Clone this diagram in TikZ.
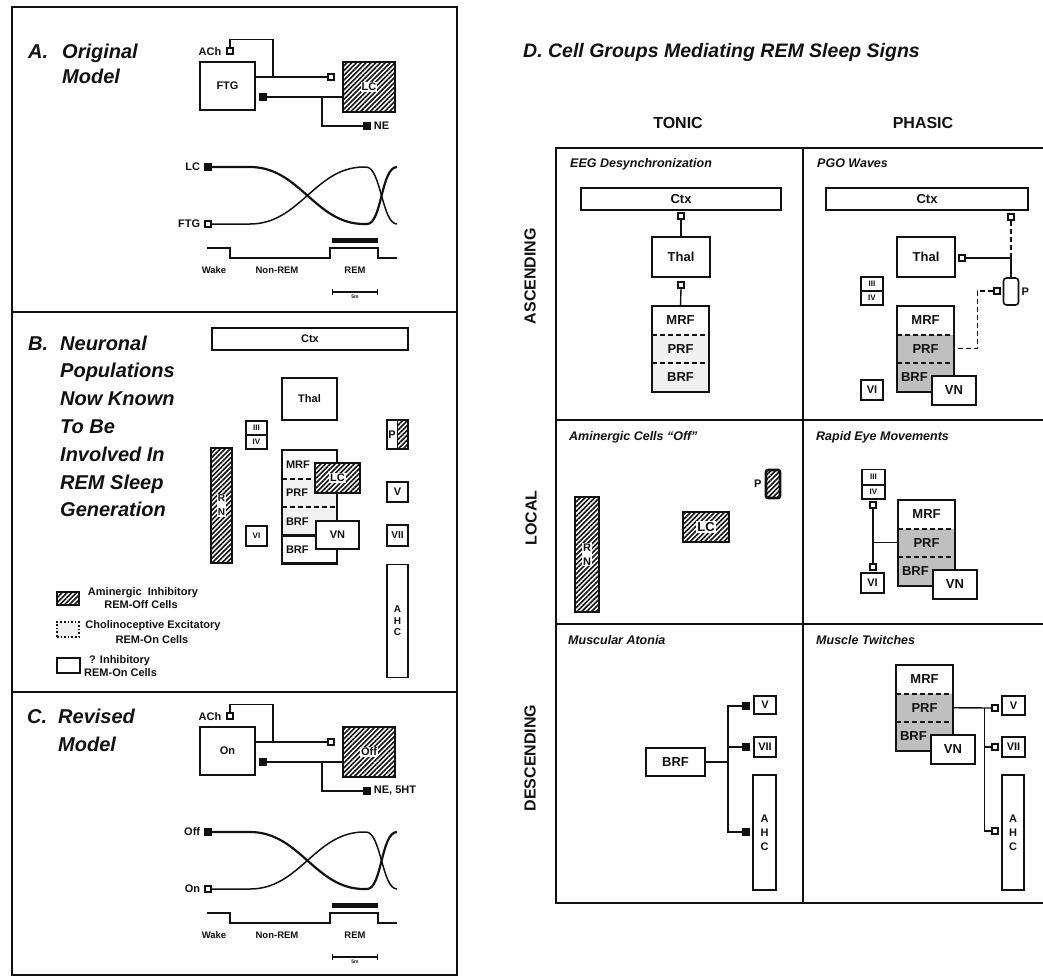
\documentclass[tikz,border=0pt]{standalone}
\usepackage{fontspec}
\setmainfont{Liberation Sans}
\usepackage{tikz}
\usetikzlibrary{arrows.meta,positioning,patterns.meta}
\definecolor{ink}{HTML}{111111}
\tikzset{
  ttl/.style={font=\fontsize{20}{24}\selectfont\bfseries\itshape,inner sep=0pt,anchor=base west},
  sub/.style={font=\fontsize{12.5}{14}\selectfont\bfseries\itshape,inner sep=0pt,anchor=base west},
  hdr/.style={font=\fontsize{16}{18}\selectfont\bfseries,inner sep=0pt},
  lbl/.style={font=\fontsize{11}{14}\selectfont\bfseries,inner sep=0pt},
  dlbl/.style={font=\fontsize{13}{14}\selectfont\bfseries,inner sep=0pt},
  sml/.style={font=\fontsize{9.5}{10}\selectfont\bfseries,inner sep=0pt},
  tny/.style={font=\fontsize{8}{8}\selectfont\bfseries},
  box/.style 2 args={draw=ink,line width=1.6pt,fill=white,minimum width=#1,minimum height=#2,
    inner sep=0pt,font=\fontsize{11}{14}\selectfont\bfseries},
  dbox/.style 2 args={box={#1}{#2},font=\fontsize{13}{14}\selectfont\bfseries},
  inh/.style 2 args={box={#1}{#2},line width=2.6pt},
  hatch/.style={pattern={Lines[angle=45,distance=3.4pt,line width=1.6pt]},pattern color=ink},
  offc/.style 2 args={inh={#1}{#2},preaction={fill=white},hatch},
  knock/.style={fill=white,inner sep=1pt},
  osq/.style={draw=ink,line width=1.3pt,fill=white,minimum size=6pt,inner sep=0pt},
  fsq/.style={draw=ink,fill=ink,minimum size=7pt,inner sep=0pt},
  conn/.style={draw=ink,line width=1.4pt},
  frame/.style={draw=ink,line width=1.7pt},
  dsh/.style={dash pattern=on 5pt off 3pt},
  part/.style={minimum width=#1,minimum height=28.5pt,inner sep=0pt},
  bpart/.style={font=\fontsize{11}{14}\selectfont\bfseries,text width=47pt,align=left},
  dpart/.style={font=\fontsize{13}{14}\selectfont\bfseries}
}
\begin{document}
\begin{tikzpicture}[x=1pt,y=-1pt,ink]
\useasboundingbox (0,0) rectangle (1043,977);

% left panels
\draw[frame] (12,7) rectangle (457,975);
\draw[frame] (12,312) -- (457,312);
\draw[frame] (12,692) -- (457,692);

\node[ttl] (tA) at (28,58) {A.};
\node[ttl] (tA1) at (62,58) {Original};
\node[ttl] (tA2) at (62,83) {Model};
\node[ttl] (tB) at (28,350) {B.};
\foreach \w [count=\i] in {Neuronal,Populations,Now Known,To Be,Involved In,REM Sleep,Generation}
  \node[ttl] (tB\i) at (60,{350+27.8*(\i-1)}) {\w};
\node[ttl] (tC) at (27,723) {C.};
\node[ttl] (tC1) at (58,723) {Revised};
\node[ttl] (tC2) at (58,751) {Model};

% models A and C
\foreach \dy/\pn/\onname/\offname/\trname in {0/A/FTG/LC/NE,665/C/On/Off/{NE, 5HT}} {
\begin{scope}[shift={(0,\dy)}]
  \node[lbl] (ach\pn) at (210,52) {ACh};
  \node[osq] (sqa\pn) at (230,51) {};
  \node[box={55}{48}] (cellon\pn) at (227.5,86) {\onname};
  \node[offc={52}{50},label={[lbl,knock]center:\offname}] (celloff\pn) at (369,87) {};
  \node[osq] (sqo\pn) at (331,77) {};
  \node[fsq] (sqf\pn) at (263,97) {};
  \node[fsq] (sqn\pn) at (367,126) {};
  \node[lbl,right=3pt of sqn\pn] (tr\pn) {\trname};
  \coordinate (ja\pn) at (273,77);
  \coordinate (jn\pn) at (322,97);
  \draw[conn] (cellon\pn.east |- sqo\pn) -- (sqo\pn.west);
  \draw[conn] (sqa\pn.north) -- ++(0,-8) -| (ja\pn);
  \draw[conn] (sqf\pn.east) -- (celloff\pn.west |- sqf\pn);
  \draw[conn] (jn\pn) |- (sqn\pn.west);
  % activity curves
  \node[fsq] (sqt\pn) at (208,167) {};
  \node[lbl,left=4pt of sqt\pn] (lt\pn) {\offname};
  \node[osq] (sqb\pn) at (208,224) {};
  \node[lbl,left=4pt of sqb\pn] (lb\pn) {\onname};
  \draw[line width=2.2pt] (sqt\pn.east) -- (250,167) .. controls (300,167) and (315,224) .. (364,224)
    -- (367,224) .. controls (382,224) and (381,167) .. (397,167);
  \draw[line width=1.5pt] (sqb\pn.east) -- (250,224) .. controls (300,224) and (315,167) .. (364,167)
    -- (366,167) .. controls (381,167) and (382,224) .. (397,224);
  % hypnogram
  \draw[conn] (207,248) -- (230,248) -- (230,258) -- (330,258) -- (330,248) -- (378,248) -- (378,258) -- (397,258);
  \draw[line width=5pt] (332,240) -- (378,240);
  \node[sml] (wk\pn) at (214,270) {Wake};
  \node[sml] (nr\pn) at (277,270) {Non-REM};
  \node[sml] (rm\pn) at (355,270) {REM};
  \draw[conn,{Bar[width=6pt]}-{Bar[width=6pt]}] (332,292) -- (378,292)
    node[midway,below=2pt,font=\fontsize{5}{5}\selectfont\bfseries,inner sep=0pt] (sc\pn) {5m};
\end{scope}
}

% panel B
\node[box={196}{22}] (ctxB) at (310,339) {Ctx};
\node[box={55}{42}] (thalB) at (309.5,399) {Thal};
\node[box={21}{14},tny] (n3B) at (256.5,428) {III};
\node[box={21}{14},tny] (n4B) at (256.5,442) {IV};
\node[box={21}{20},tny] (n6B) at (256.5,536) {VI};
\node[offc={21}{115}] (rnB) at (221.5,505.5) {};
\node[lbl,knock,align=center,font=\fontsize{10}{14}\selectfont\bfseries] (rnBt) at (rnB) {R\\N};
\node[part=55,bpart] (mrfB) at (309.5,464.25) {MRF};
\node[part=55,bpart,fill=black!5] (prfB) at (309.5,492.75) {PRF};
\node[part=55,bpart,fill=black!5] (brfB) at (309.5,521.25) {BRF};
\draw[frame] (mrfB.north west) rectangle (brfB.south east);
\draw[frame,dsh] (mrfB.south west) -- (mrfB.south east);
\draw[frame,dsh] (prfB.south west) -- (prfB.south east);
\node[inh={55}{28},bpart] (brfB2) at (309.5,549.5) {BRF};
\node[offc={45}{30},label={[lbl,knock]center:LC}] (lcB) at (337.5,478) {};
\node[box={43}{28}] (vnB) at (337.5,535) {VN};
\node[box={21}{29},path picture={
    \fill[hatch] (path picture bounding box.north) rectangle (path picture bounding box.south east);
    \draw[line width=1.5pt] (path picture bounding box.north) -- (path picture bounding box.south);}] (pB) at (397.5,434.5) {};
\node[lbl] (pBt) at (392,435) {P};
\node[box={21}{20}] (n5B) at (397.5,492) {V};
\node[box={21}{21},font=\fontsize{10}{12}\selectfont\bfseries] (n7B) at (397.5,535.5) {VII};
\node[box={21}{113},align=center,font=\fontsize{10}{11.5}\selectfont\bfseries] (ahcB) at (397.5,621) {A\\H\\C};

% legend
\node[offc={22}{13},line width=2pt] (legI) at (68,598.5) {};
\node[box={22}{15},dotted,fill=black!6] (legE) at (68,629.5) {};
\node[inh={23}{15}] (legR) at (68.5,665.5) {};
\node[lbl] (legIa) at (143,593) {Aminergic \ Inhibitory};
\node[lbl] (legIb) at (141,605) {REM-Off Cells};
\node[lbl] (legEa) at (153,626) {Cholinoceptive Excitatory};
\node[lbl] (legEb) at (152,640) {REM-On Cells};
\node[lbl,anchor=west] (legRa) at (89,661) {? Inhibitory};
\node[lbl,anchor=west] (legRb) at (84,673) {REM-On Cells};

% panel D
\node[ttl,font=\fontsize{19.5}{24}\selectfont\bfseries\itshape] (tD) at (523,57) {D. Cell Groups Mediating REM Sleep Signs};
\node[hdr] (hT) at (678,123) {TONIC};
\node[hdr] (hP) at (923,123) {PHASIC};
\node[hdr,rotate=90] (hAsc) at (530,276) {ASCENDING};
\node[hdr,rotate=90] (hLoc) at (531,518) {LOCAL};
\node[hdr,rotate=90] (hDes) at (530,758) {DESCENDING};
\draw[frame,line width=2pt] (1043,148) -| (556,903) -- (1043,903);
\foreach \yy in {420,624}
  \draw[frame,line width=2pt] (556,\yy) -- (1043,\yy);
\draw[frame,line width=2pt] (803,148) -- (803,903);

\node[sub] (s11) at (570,167) {EEG Desynchronization};
\node[sub] (s12) at (817,167) {PGO Waves};
\node[sub] (s21) at (569,440) {Aminergic Cells ``Off''};
\node[sub] (s22) at (816,440) {Rapid Eye Movements};
\node[sub] (s31) at (568,644) {Muscular Atonia};
\node[sub] (s32) at (816,644) {Muscle Twitches};

% ascending, tonic
\node[dbox={200}{22}] (ctxT) at (681,199) {Ctx};
\node[osq] (sqcT) at (681,216) {};
\node[dbox={58}{40}] (thalT) at (681,257) {Thal};
\node[osq] (sqtT) at (681,285) {};
\node[part=57,dpart] (mrfT) at (680.5,320.25) {MRF};
\node[part=57,dpart,fill=black!6] (prfT) at (680.5,348.75) {PRF};
\node[part=57,dpart,fill=black!6] (brfT) at (680.5,377.25) {BRF};
\draw[frame] (mrfT.north west) rectangle (brfT.south east);
\draw[frame,dsh] (mrfT.south west) -- (mrfT.south east);
\draw[frame,dsh] (prfT.south west) -- (prfT.south east);
\draw[conn] (sqcT.south) -- (thalT.north);
\draw[conn] (sqtT.south) -- (mrfT.north);

% reticular columns, phasic
\foreach \n/\cx/\cy in {pa/897/306,pl/898/500,pd/896/665} {
  \node[part=57,dpart] (mrf\n) at ({\cx+28.5},{\cy+14.25}) {MRF};
  \node[part=57,dpart,fill=black!25] (prf\n) at ({\cx+28.5},{\cy+42.75}) {PRF};
  \node[part=57,dpart,fill=black!25,text width=49pt,align=left] (brf\n) at ({\cx+28.5},{\cy+71.25}) {BRF};
  \draw[frame] (mrf\n.north west) rectangle (brf\n.south east);
  \draw[frame,dsh] (mrf\n.south west) -- (mrf\n.south east);
  \draw[frame,dsh] (prf\n.south west) -- (prf\n.south east);
  \node[dbox={44}{29}] (vn\n) at ({\cx+57},{\cy+84.5}) {VN};
}

% ascending, phasic
\node[dbox={202}{22}] (ctxP) at (927,199) {Ctx};
\node[osq] (sqcP) at (1011,217) {};
\node[dbox={58}{40}] (thalP) at (926,257) {Thal};
\node[osq] (sqtP) at (962,258) {};
\node[box={15}{27},rounded corners=3pt] (ppa) at (1011,291.5) {};
\node[lbl,right=2pt of ppa] (ppat) {P};
\node[osq] (sqpP) at (997,291) {};
\node[box={22}{14},tny] (n3pa) at (872,284) {III};
\node[box={22}{14},tny] (n4pa) at (872,298) {IV};
\node[box={22}{20}] (n6pa) at (872,390) {VI};
\coordinate (jpa) at (sqcP |- sqtP);
\draw[conn,dsh] (sqcP.south) -- (jpa);
\draw[conn] (sqtP.east) -- (jpa) -- (ppa.north);
\draw[conn,dsh] (sqpP.west) -- ++(-16,0) |- (prfpa.east);

% local, tonic
\node[offc={24}{115}] (rnT) at (587,554.5) {};
\node[lbl,knock,align=center] (rnTt) at (rnT) {R\\N};
\node[offc={46}{30},label={[dlbl,knock]center:LC}] (lcT) at (706,527) {};
\node[offc={14}{28},rounded corners=2pt] (pT) at (773,484) {};
\node[lbl,left=3pt of pT] (pTt) {P};

% local, phasic
\node[box={23}{15},tny] (n3pl) at (873.5,477) {III};
\node[box={23}{14},tny] (n4pl) at (873.5,492) {IV};
\node[osq] (sq3pl) at (873,505) {};
\node[osq] (sq6pl) at (873,567) {};
\node[box={23}{20}] (n6pl) at (872.5,583) {VI};
\draw[conn] (sq3pl.south) -- (sq6pl.north);
\draw[conn] (prfpl.west) -- (prfpl.west -| sq3pl);

% descending, tonic
\node[inh={59}{28},dpart] (brfD) at (675.5,762) {BRF};
\node[fsq] (sqvT) at (746,706) {};
\node[fsq] (sq7T) at (746,747) {};
\node[fsq] (sqhT) at (746,832) {};
\node[box={22}{18}] (n5T) at (765,705) {V};
\node[box={22}{20}] (n7T) at (765,747) {VII};
\node[box={23}{115},align=center] (ahcT) at (764.5,832.5) {A\\H\\C};
\coordinate (jT) at (728,762);
\draw[conn] (brfD.east) -- (jT);
\draw[conn] (sqvT.west) -| (jT);
\draw[conn] (sqhT.west) -| (jT);
\draw[conn] (sq7T.west) -- (sq7T.west -| jT);

% descending, phasic
\node[osq] (sqvP) at (995,708) {};
\node[osq] (sq7P) at (995,747) {};
\node[osq] (sqhP) at (995,831) {};
\node[box={23}{19}] (n5P) at (1013.5,705.5) {V};
\node[box={23}{20}] (n7P) at (1013.5,747) {VII};
\node[box={22}{115},align=center] (ahcP) at (1013,832.5) {A\\H\\C};
\coordinate (jP) at ([xshift=31pt]prfpd.east);
\draw[conn] (prfpd.east) -- (sqvP.west);
\draw[conn] (jP) |- (sqhP.west);
\draw[conn] (sq7P.west) -- (sq7P.west -| jP);
\end{tikzpicture}
\end{document}
